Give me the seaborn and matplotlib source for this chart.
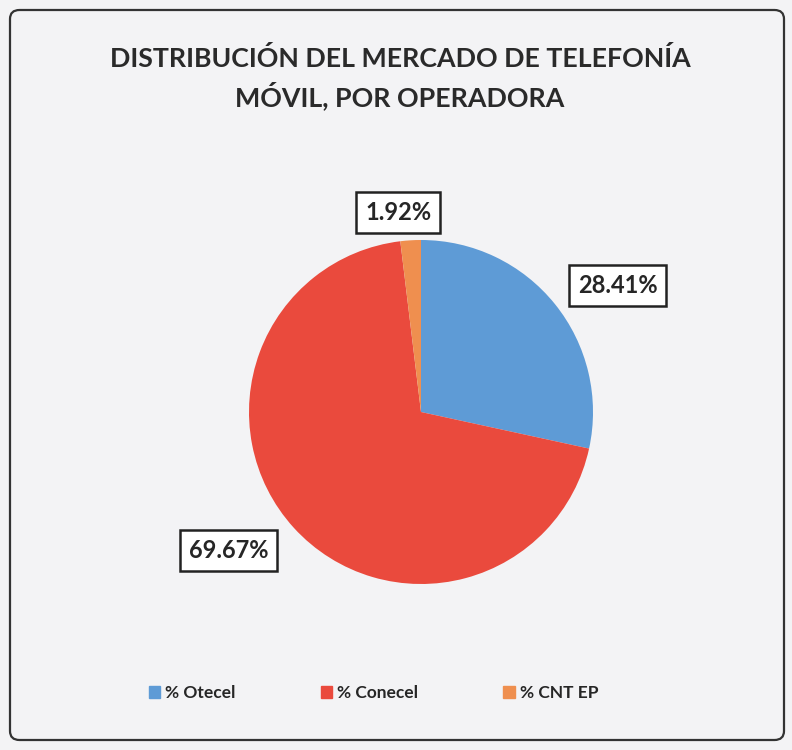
import numpy as np
import matplotlib
matplotlib.use("Agg")
import matplotlib.pyplot as plt
import seaborn as sns
from matplotlib.patches import FancyBboxPatch

sns.set_theme(style="white")
plt.rcParams['font.family'] = ['Lato', 'DejaVu Sans']

categories = ["% Otecel", "% Conecel", "% CNT EP"]
values = [28.41, 69.67, 1.92]
labels = ["28.41%", "69.67%", "1.92%"]
colors = ["#5e9bd6", "#ea4a3d", "#ef8f4f"]
title = "DISTRIBUCIÓN DEL MERCADO DE TELEFONÍA\nMÓVIL, POR OPERADORA"

W, H = 792, 750
fig = plt.figure(figsize=(W / 100, H / 100), dpi=100)
fig.patch.set_facecolor("#f3f3f5")

# rounded border
border = FancyBboxPatch((10 / W, 10 / H), 774 / W, 730 / H,
                        boxstyle="round,pad=0,rounding_size=0.012",
                        transform=fig.transFigure, fill=False,
                        edgecolor="#333333", linewidth=1.6)
fig.patches.append(border)

cx, cy, r = 421, 750 - 412, 172
ax = fig.add_axes([(cx - r) / W, (cy - r) / H, 2 * r / W, 2 * r / H])
ax.set_facecolor("none")
wedges, _ = ax.pie(values, colors=colors, startangle=90, counterclock=False,
                   wedgeprops=dict(linewidth=0))
ax.set_xlim(-1, 1)
ax.set_ylim(-1, 1)
ax.set_aspect("equal")
ax.axis("off")

# label placement: (angle offset, distance)
placement = [(-6, 1.36), (-6.5, 1.38), (3, 1.17)]
for w, lab, (dang, dist) in zip(wedges, labels, placement):
    ang = np.deg2rad((w.theta1 + w.theta2) / 2 + dang)
    x, y = dist * np.cos(ang), dist * np.sin(ang)
    ax.text(x, y, lab, ha="center", va="center", fontsize=17, fontweight="bold",
            color="#262626", clip_on=False,
            bbox=dict(boxstyle="square,pad=0.38", fc="white", ec="#222222", lw=1.8))

fig.text(0.505, 1 - 78 / H, title, ha="center", va="center", fontsize=19.3,
         fontweight="bold", color="#2a2a2a", linespacing=1.4)

handles = [plt.Rectangle((0, 0), 1, 1, color=c) for c in colors]
fig.legend(handles, categories, loc="center", bbox_to_anchor=(373.5 / W, 1 - 693 / H),
           ncol=3, frameon=False, handlelength=0.65, handleheight=0.65,
           handletextpad=0.3, columnspacing=4.9,
           prop=dict(family=['Lato', 'DejaVu Sans'], weight='bold', size=12.5))

fig.savefig("out.png", dpi=100, facecolor=fig.get_facecolor())
